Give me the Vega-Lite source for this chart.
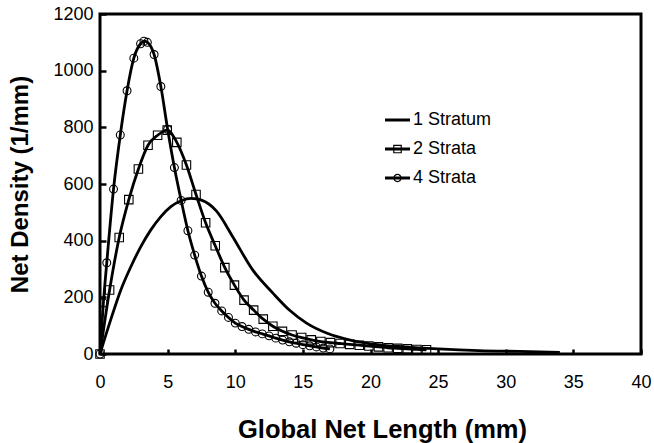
{
  "$schema": "https://vega.github.io/schema/vega-lite/v6.json",
  "width": 541,
  "height": 340,
  "autosize": {"type": "none"},
  "padding": {"left": 100, "top": 14, "right": 13, "bottom": 89},
  "background": "white",
  "config": {
    "view": {"stroke": "black", "strokeWidth": 3},
    "font": "Liberation Sans",
    "axis": {
      "domain": false,
      "grid": false,
      "ticks": true,
      "tickColor": "black",
      "tickWidth": 2.5,
      "labelFont": "Liberation Sans",
      "labelFontSize": 18,
      "labelColor": "black",
      "titleFont": "Liberation Sans",
      "titleFontSize": 24,
      "titleFontWeight": "bold",
      "titleColor": "black"
    }
  },
  "data": {
    "values": [
      {"series": "1 Stratum", "x": 0, "y": 0},
      {"series": "1 Stratum", "x": 0.8, "y": 122},
      {"series": "1 Stratum", "x": 1.54, "y": 226},
      {"series": "1 Stratum", "x": 2.28, "y": 308},
      {"series": "1 Stratum", "x": 3.02, "y": 379},
      {"series": "1 Stratum", "x": 3.76, "y": 438},
      {"series": "1 Stratum", "x": 4.5, "y": 485},
      {"series": "1 Stratum", "x": 5.24, "y": 520},
      {"series": "1 Stratum", "x": 6.0, "y": 541},
      {"series": "1 Stratum", "x": 6.75, "y": 549},
      {"series": "1 Stratum", "x": 7.5, "y": 543},
      {"series": "1 Stratum", "x": 8.6, "y": 505},
      {"series": "1 Stratum", "x": 9.8, "y": 415},
      {"series": "1 Stratum", "x": 11.3, "y": 296},
      {"series": "1 Stratum", "x": 12.8, "y": 214},
      {"series": "1 Stratum", "x": 14.0, "y": 155},
      {"series": "1 Stratum", "x": 15.3, "y": 108},
      {"series": "1 Stratum", "x": 16.8, "y": 73},
      {"series": "1 Stratum", "x": 18.5, "y": 49},
      {"series": "1 Stratum", "x": 20.5, "y": 33},
      {"series": "1 Stratum", "x": 22.5, "y": 25},
      {"series": "1 Stratum", "x": 25, "y": 18},
      {"series": "1 Stratum", "x": 28, "y": 12},
      {"series": "1 Stratum", "x": 31, "y": 9},
      {"series": "1 Stratum", "x": 34, "y": 6},

      {"series": "2 Strata", "x": 0, "y": 0},
      {"series": "2 Strata", "x": 0.71, "y": 226},
      {"series": "2 Strata", "x": 1.42, "y": 411},
      {"series": "2 Strata", "x": 2.13, "y": 545},
      {"series": "2 Strata", "x": 2.84, "y": 653},
      {"series": "2 Strata", "x": 3.55, "y": 737},
      {"series": "2 Strata", "x": 4.26, "y": 772},
      {"series": "2 Strata", "x": 4.97, "y": 790},
      {"series": "2 Strata", "x": 5.68, "y": 747},
      {"series": "2 Strata", "x": 6.39, "y": 667},
      {"series": "2 Strata", "x": 7.1, "y": 563},
      {"series": "2 Strata", "x": 7.81, "y": 463},
      {"series": "2 Strata", "x": 8.52, "y": 382},
      {"series": "2 Strata", "x": 9.23, "y": 305},
      {"series": "2 Strata", "x": 9.94, "y": 243},
      {"series": "2 Strata", "x": 10.65, "y": 190},
      {"series": "2 Strata", "x": 11.36, "y": 155},
      {"series": "2 Strata", "x": 12.07, "y": 123},
      {"series": "2 Strata", "x": 12.78, "y": 98},
      {"series": "2 Strata", "x": 13.49, "y": 80},
      {"series": "2 Strata", "x": 14.2, "y": 67},
      {"series": "2 Strata", "x": 14.91, "y": 58},
      {"series": "2 Strata", "x": 15.62, "y": 50},
      {"series": "2 Strata", "x": 16.33, "y": 44},
      {"series": "2 Strata", "x": 17.04, "y": 40},
      {"series": "2 Strata", "x": 17.75, "y": 37},
      {"series": "2 Strata", "x": 18.46, "y": 34},
      {"series": "2 Strata", "x": 19.17, "y": 31},
      {"series": "2 Strata", "x": 19.88, "y": 28},
      {"series": "2 Strata", "x": 20.59, "y": 25},
      {"series": "2 Strata", "x": 21.3, "y": 22},
      {"series": "2 Strata", "x": 22.01, "y": 20},
      {"series": "2 Strata", "x": 22.72, "y": 18},
      {"series": "2 Strata", "x": 23.43, "y": 16},
      {"series": "2 Strata", "x": 24.14, "y": 15},

      {"series": "4 Strata", "x": 0, "y": 0},
      {"series": "4 Strata", "x": 0.25, "y": 180},
      {"series": "4 Strata", "x": 0.5, "y": 322},
      {"series": "4 Strata", "x": 1.0, "y": 582},
      {"series": "4 Strata", "x": 1.5, "y": 773},
      {"series": "4 Strata", "x": 2.0, "y": 929},
      {"series": "4 Strata", "x": 2.5, "y": 1044},
      {"series": "4 Strata", "x": 3.0, "y": 1095},
      {"series": "4 Strata", "x": 3.25, "y": 1104},
      {"series": "4 Strata", "x": 3.5, "y": 1100},
      {"series": "4 Strata", "x": 4.0, "y": 1057},
      {"series": "4 Strata", "x": 4.5, "y": 944},
      {"series": "4 Strata", "x": 5.0, "y": 793},
      {"series": "4 Strata", "x": 5.5, "y": 658},
      {"series": "4 Strata", "x": 6.0, "y": 542},
      {"series": "4 Strata", "x": 6.5, "y": 435},
      {"series": "4 Strata", "x": 7.0, "y": 349},
      {"series": "4 Strata", "x": 7.5, "y": 275},
      {"series": "4 Strata", "x": 8.0, "y": 218},
      {"series": "4 Strata", "x": 8.5, "y": 179},
      {"series": "4 Strata", "x": 9.0, "y": 152},
      {"series": "4 Strata", "x": 9.5, "y": 129},
      {"series": "4 Strata", "x": 10.0, "y": 109},
      {"series": "4 Strata", "x": 10.5, "y": 97},
      {"series": "4 Strata", "x": 11.0, "y": 87},
      {"series": "4 Strata", "x": 11.5, "y": 78},
      {"series": "4 Strata", "x": 12.0, "y": 71},
      {"series": "4 Strata", "x": 12.5, "y": 64},
      {"series": "4 Strata", "x": 13.0, "y": 56},
      {"series": "4 Strata", "x": 13.5, "y": 49},
      {"series": "4 Strata", "x": 14.0, "y": 43},
      {"series": "4 Strata", "x": 14.5, "y": 38},
      {"series": "4 Strata", "x": 15.0, "y": 33},
      {"series": "4 Strata", "x": 15.5, "y": 29},
      {"series": "4 Strata", "x": 16.0, "y": 25},
      {"series": "4 Strata", "x": 16.5, "y": 21},
      {"series": "4 Strata", "x": 17.0, "y": 18}
    ]
  },
  "encoding": {
    "x": {
      "field": "x",
      "type": "quantitative",
      "scale": {"domain": [0, 40], "nice": false, "zero": true},
      "axis": {
        "title": "Global Net Length (mm)",
        "values": [0, 5, 10, 15, 20, 25, 30, 35, 40],
        "format": "d",
        "tickSize": -5,
        "labelPadding": 24,
        "labelFlush": false,
        "labelOverlap": false,
        "titleFontSize": 25.5,
        "titleX": 282,
        "titleY": 83,
        "titleBaseline": "alphabetic",
        "titleAlign": "center"
      }
    },
    "y": {
      "field": "y",
      "type": "quantitative",
      "scale": {"domain": [0, 1200], "nice": false},
      "axis": {
        "title": "Net Density (1/mm)",
        "values": [0, 200, 400, 600, 800, 1000, 1200],
        "format": "d",
        "tickSize": -6,
        "labelPadding": 13,
        "labelOverlap": false,
        "titleX": -80,
        "titleY": 170,
        "titleAngle": -90,
        "titleBaseline": "middle",
        "titleAlign": "center"
      }
    }
  },
  "layer": [
    {
      "mark": {"type": "line", "color": "black", "strokeWidth": 2.8, "interpolate": "monotone", "clip": false},
      "encoding": {"detail": {"field": "series"}}
    },
    {
      "transform": [{"filter": "datum.series === '2 Strata'"}],
      "mark": {"type": "point", "shape": "square", "filled": false, "color": "black", "strokeWidth": 1.1, "size": 72, "opacity": 1}
    },
    {
      "transform": [{"filter": "datum.series === '4 Strata'"}],
      "mark": {"type": "point", "shape": "circle", "filled": false, "color": "black", "strokeWidth": 1.1, "size": 62, "opacity": 1}
    },
    {
      "mark": {"type": "point", "filled": true, "color": "black", "size": 0, "opacity": 1},
      "encoding": {
        "shape": {
          "field": "series",
          "type": "nominal",
          "scale": {
            "domain": ["1 Stratum", "2 Strata", "4 Strata"],
            "range": [
              "M-1,-0.12H1V0.12H-1Z",
              "M-1,-0.12H1V0.12H-1Z M-0.344,-0.344H0.344V0.344H-0.344Z M-0.25,-0.25V0.25H0.25V-0.25Z",
              "M-1,-0.12H1V0.12H-1Z M-0.336,0A0.336,0.336 0 1,1 0.336,0A0.336,0.336 0 1,1 -0.336,0Z M-0.24,0A0.24,0.24 0 1,0 0.24,0A0.24,0.24 0 1,0 -0.24,0Z"
            ]
          },
          "legend": {
            "title": null,
            "orient": "none",
            "legendX": 285,
            "legendY": 93.5,
            "padding": 0,
            "symbolSize": 625,
            "symbolFillColor": "black",
            "symbolStrokeWidth": 0,
            "symbolOpacity": 1,
            "labelFont": "Liberation Sans",
            "labelFontSize": 18,
            "labelColor": "black",
            "labelOffset": 3,
            "labelBaseline": "middle",
            "rowPadding": 7
          }
        }
      }
    }
  ]
}
